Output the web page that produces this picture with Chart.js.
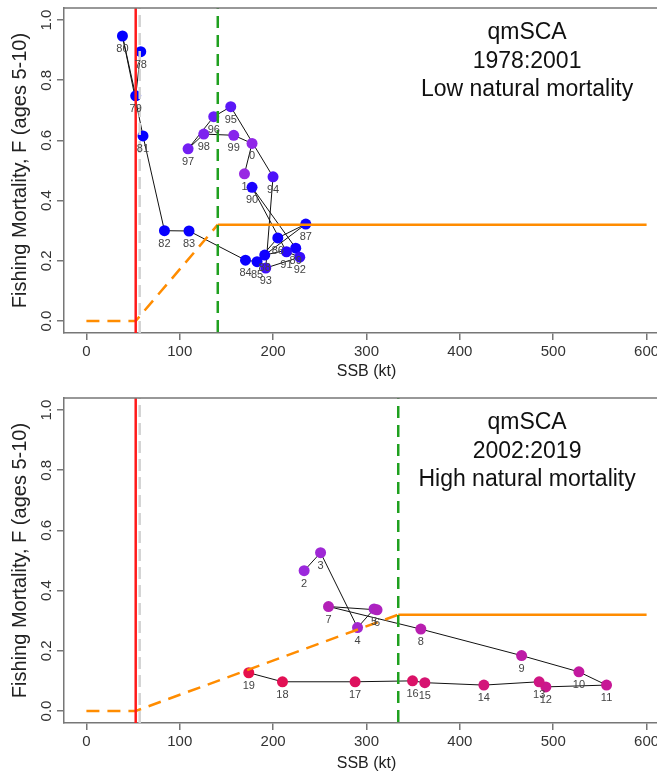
<!DOCTYPE html>
<html>
<head>
  <meta charset="UTF-8">
  <title>qmSCA F vs SSB</title>
  <script src="https://cdn.jsdelivr.net/npm/chart.js"></script>
  <style>
    html, body { margin: 0; padding: 0; background: #fff; overflow: hidden; }
    #wrap { width: 657px; height: 777px; overflow: hidden; position: relative; }
    canvas { display: block; }
  </style>
</head>
<body>
  <div id="wrap">
    <canvas id="chartA" width="680" height="390"></canvas>
    <canvas id="chartB" width="680" height="387"></canvas>
  </div>

  <script>
    // ---- data ----
    const yearsA = [1978, 1979, 1980, 1981, 1982, 1983, 1984, 1985, 1986, 1987, 1988, 1989,
                    1990, 1991, 1992, 1993, 1994, 1995, 1996, 1997, 1998, 1999, 2000, 2001];
    const ssbA = [58.2, 52.8, 38.6, 60.6, 83.6, 109.9, 170.4, 182.8, 205.0, 235.0, 191.0, 224.2,
                  177.4, 214.3, 228.5, 192.1, 199.9, 154.6, 136.4, 108.9, 125.7, 157.8, 177.4, 169.3];
    const fA = [0.895, 0.748, 0.947, 0.615, 0.300, 0.299, 0.202, 0.197, 0.276, 0.322, 0.219, 0.242,
                0.444, 0.230, 0.212, 0.176, 0.479, 0.712, 0.679, 0.572, 0.621, 0.617, 0.590, 0.489];

    const yearsB = [2002, 2003, 2004, 2005, 2006, 2007, 2008, 2009, 2010,
                    2011, 2012, 2013, 2014, 2015, 2016, 2017, 2018, 2019];
    const ssbB = [233.2, 250.8, 290.4, 308.1, 311.3, 259.3, 358.2, 466.1, 527.5,
                  557.1, 492.1, 484.9, 425.7, 362.5, 349.3, 287.8, 210.0, 173.9];
    const fB = [0.466, 0.526, 0.277, 0.339, 0.336, 0.347, 0.272, 0.184, 0.130,
                0.086, 0.080, 0.097, 0.086, 0.094, 0.100, 0.097, 0.097, 0.127];

    // reference points
    const blim = 52.8;
    const bGrey = 57.1;
    const bmsyA = 140.7;
    const bmsyB = 334;
    const fRef = 0.32;

    const xTicks = [0, 100, 200, 300, 400, 500, 600];
    const yTicks = [0, 0.2, 0.4, 0.6, 0.8, 1.0];
    const textA = ['qmSCA', '1978:2001', 'Low natural mortality'];
    const textB = ['qmSCA', '2002:2019', 'High natural mortality'];

    const FONT = '"Liberation Sans", Arial, sans-serif';

    // colour ramp blue -> purple -> red across all years
    const rampStops = [
      [0, [0, 0, 255]], [0.28, [20, 0, 255]], [0.45, [110, 30, 245]], [0.55, [150, 40, 230]],
      [0.62, [160, 40, 210]], [0.78, [195, 25, 160]], [1, [230, 15, 75]]
    ];
    function yearColor(yr) {
      const t = (yr - 1978) / (2019 - 1978);
      for (let i = 1; i < rampStops.length; i++) {
        if (t <= rampStops[i][0]) {
          const [t0, c0] = rampStops[i - 1];
          const [t1, c1] = rampStops[i];
          const k = (t - t0) / (t1 - t0);
          const c = c0.map((v, j) => Math.round(v + (c1[j] - v) * k));
          return `rgb(${c[0]},${c[1]},${c[2]})`;
        }
      }
      return 'rgb(230,15,75)';
    }

    const panelText = {
      id: 'panelText',
      afterDatasetsDraw(chart, args, opts) {
        const { ctx, chartArea, scales: { x, y } } = chart;
        ctx.save();
        // rest of the box
        ctx.strokeStyle = '#777';
        ctx.lineWidth = 1.5;
        ctx.beginPath();
        ctx.moveTo(chartArea.left, chartArea.top);
        ctx.lineTo(chartArea.right, chartArea.top);
        ctx.lineTo(chartArea.right, chartArea.bottom);
        ctx.stroke();

        // year labels under the points
        ctx.font = '11px ' + FONT;
        ctx.fillStyle = '#444';
        ctx.textAlign = 'center';
        ctx.textBaseline = 'middle';
        opts.years.forEach((yr, i) => {
          ctx.fillText(String(yr % 100), x.getPixelForValue(opts.xs[i]), y.getPixelForValue(opts.ys[i]) + 13);
        });

        // panel caption
        ctx.font = '23px ' + FONT;
        ctx.fillStyle = '#111';
        const cx = x.getPixelForValue(472);
        opts.text.forEach((t, i) => {
          ctx.fillText(t, cx, chartArea.top + 25 + i * 28.5);
        });

        // y tick labels, rotated like base R
        ctx.font = '15px ' + FONT;
        ctx.fillStyle = '#333';
        yTicks.forEach(v => {
          ctx.save();
          ctx.translate(chartArea.left - 17, y.getPixelForValue(v));
          ctx.rotate(-Math.PI / 2);
          ctx.fillText(v.toFixed(1), 0, 0);
          ctx.restore();
        });
        ctx.restore();
      }
    };

    function makePanel(id, years, xs, ys, bmsy, text, xTitleOffset) {
      const series = {
        type: 'scatter',
        data: xs.map((v, i) => ({ x: v, y: ys[i] })),
        showLine: true,
        borderColor: '#111',
        borderWidth: 1,
        pointRadius: 5.5,
        pointBackgroundColor: years.map(yearColor),
        pointBorderColor: years.map(yearColor),
        pointBorderWidth: 0,
        order: 5
      };
      const vline = (xv, color, dash, w) => ({
        type: 'line',
        data: [{ x: xv, y: -0.1 }, { x: xv, y: 1.1 }],
        borderColor: color,
        borderWidth: w,
        borderDash: dash,
        pointRadius: 0,
        order: 1
      });
      const hcrDashed = {
        type: 'line',
        data: [{ x: 0, y: 0 }, { x: blim, y: 0 }, { x: bmsy, y: fRef }],
        borderColor: '#ff8c00',
        borderWidth: 2.5,
        borderDash: [13, 8],
        pointRadius: 0,
        order: 2
      };
      const hcrSolid = {
        type: 'line',
        data: [{ x: bmsy, y: fRef }, { x: 600, y: fRef }],
        borderColor: '#ff8c00',
        borderWidth: 2.5,
        pointRadius: 0,
        order: 2
      };

      return new Chart(document.getElementById(id), {
        type: 'scatter',
        data: {
          datasets: [
            series,
            hcrDashed,
            hcrSolid,
            vline(bGrey, '#d3d3d3', [12, 6], 2.5),
            vline(blim, '#ff1a1a', [], 2.5),
            vline(bmsy, '#1fa01f', [12, 7], 2.5)
          ]
        },
        options: {
          responsive: false,
          animation: false,
          layout: { padding: { top: 8, right: 11, left: 0, bottom: 0 } },
          plugins: {
            legend: { display: false },
            tooltip: { enabled: false },
            panelText: { years: years, xs: xs, ys: ys, text: text }
          },
          scales: {
            x: {
              type: 'linear',
              min: -24,
              max: 624,
              afterBuildTicks: s => { s.ticks = xTicks.map(v => ({ value: v })); },
              afterFit: s => { s.height = chartHeight(id) - 8 - 325; },
              border: { display: true, color: '#777', width: 1.5 },
              grid: { drawOnChartArea: false, drawTicks: true, tickLength: 7, color: '#777', lineWidth: 1.5 },
              ticks: { color: '#333', font: { family: FONT, size: 15 }, padding: 3, maxRotation: 0 },
              title: { display: true, text: 'SSB (kt)', color: '#222', font: { family: FONT, size: 16 }, padding: { bottom: xTitleOffset } }
            },
            y: {
              type: 'linear',
              min: -0.04,
              max: 1.04,
              afterBuildTicks: s => { s.ticks = yTicks.map(v => ({ value: v })); },
              afterFit: s => { s.width = 64; },
              border: { display: true, color: '#777', width: 1.5 },
              grid: { drawOnChartArea: false, drawTicks: true, tickLength: 7, color: '#777', lineWidth: 1.5 },
              ticks: { display: false },
              title: { display: true, text: 'Fishing Mortality, F (ages 5-10)', color: '#222', font: { family: FONT, size: 20 }, padding: { top: 8 } }
            }
          }
        },
        plugins: [panelText]
      });
    }

    function chartHeight(id) {
      return document.getElementById(id).height;
    }

    makePanel('chartA', yearsA, ssbA, fA, bmsyA, textA, 9);
    makePanel('chartB', yearsB, ssbB, fB, bmsyB, textB, 4);
  </script>
</body>
</html>
